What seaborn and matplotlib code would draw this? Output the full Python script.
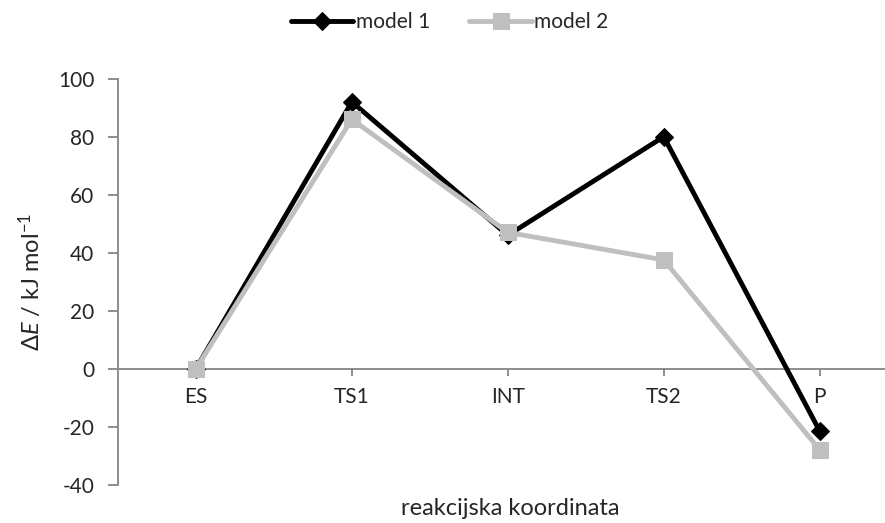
import numpy as np
import pandas as pd
import matplotlib
matplotlib.use('Agg')
import matplotlib.pyplot as plt
import seaborn as sns

# ── Data ─────────────────────────────────────────────────────────────────────
categories = ['ES', 'TS1', 'INT', 'TS2', 'P']
model_1 = [0, 92, 46, 80, -21.5]
model_2 = [0, 86, 47, 37.5, -28]
y_ticks = [-40, -20, 0, 20, 40, 60, 80, 100]

sns.set_style('white')
plt.rcParams['font.family'] = ['Lato', 'DejaVu Sans']
plt.rcParams['mathtext.fontset'] = 'custom'
plt.rcParams['mathtext.rm'] = 'Lato'
plt.rcParams['mathtext.it'] = 'Lato:italic'

fig = plt.figure(figsize=(8.85, 5.23), dpi=100)
ax = fig.add_axes([0.1333, 0.0733, 0.881, 0.7762])

df1 = pd.DataFrame({'x': categories, 'y': model_1})
df2 = pd.DataFrame({'x': categories, 'y': model_2})

sns.lineplot(data=df1, x='x', y='y', ax=ax, color='black', linewidth=3.5,
             marker='D', markersize=9, markeredgecolor='black', label='model 1',
             zorder=3)
sns.lineplot(data=df2, x='x', y='y', ax=ax, color='#bfbfbf', linewidth=3.5,
             marker='s', markersize=11, markeredgecolor='#bfbfbf', label='model 2',
             zorder=4)

for s in ['top', 'right']:
    ax.spines[s].set_visible(False)
ax.spines['bottom'].set_position(('data', 0))
ax.spines['bottom'].set_color('#868686')
ax.spines['left'].set_color('#868686')
ax.spines['bottom'].set_linewidth(1.3)
ax.spines['left'].set_linewidth(1.3)

ax.set_xlim(-0.5, len(categories) - 0.5)
ax.set_ylim(-40, 100)
ax.set_yticks(y_ticks)
ax.set_yticklabels([str(t) for t in y_ticks], fontsize=15)
ax.set_xticks(range(len(categories)))
ax.set_xticklabels(categories, fontsize=15)
ax.tick_params(axis='y', direction='out', length=7, width=1.3, color='#868686',
               left=True, pad=10)
ax.tick_params(axis='x', direction='out', length=5, width=1.3, color='#868686',
               bottom=True, pad=8)

ax.set_xlabel('')
ax.set_ylabel(r'$\Delta\mathit{E}$ / kJ mol$^{-1}$', fontsize=17, labelpad=10)
fig.text(0.577, 0.027, 'reakcijska koordinata', ha='center', va='center', fontsize=17)

ax.get_legend().remove()
h, l = ax.get_legend_handles_labels()
fig.legend(h, l, loc='center', bbox_to_anchor=(0.508, 0.958), ncol=2, frameon=False,
           fontsize=15, handlelength=3.0, columnspacing=1.9, handletextpad=0.1)

plt.savefig('out.png', dpi=100)
plt.close()
